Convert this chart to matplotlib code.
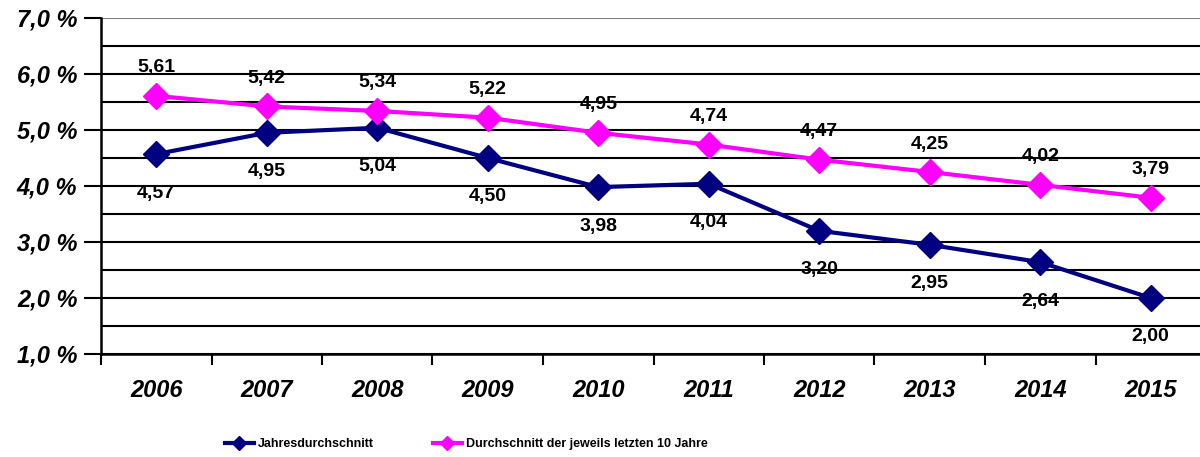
import matplotlib
matplotlib.use("Agg")
import matplotlib.pyplot as plt
from matplotlib.ticker import MultipleLocator, FixedLocator
from matplotlib import font_manager as fm

years = ["2006", "2007", "2008", "2009", "2010", "2011", "2012", "2013", "2014", "2015"]
jahres = [4.57, 4.95, 5.04, 4.50, 3.98, 4.04, 3.20, 2.95, 2.64, 2.00]
zehn = [5.61, 5.42, 5.34, 5.22, 4.95, 4.74, 4.47, 4.25, 4.02, 3.79]
y_ticks = [1.0, 2.0, 3.0, 4.0, 5.0, 6.0, 7.0]
label_jahres = "Jahresdurchschnitt"
label_zehn = "Durchschnitt der jeweils letzten 10 Jahre"

navy = "#000080"
magenta = "#FF00FF"
W, H = 1200, 457
fig = plt.figure(figsize=(W / 100, H / 100), dpi=100)
ax = fig.add_axes([101 / W, 1 - 354 / H, 1105 / W, (354 - 18) / H])

x = list(range(len(years)))
ax.plot(x, jahres, color=navy, lw=3, marker="D", ms=13, zorder=4, label=label_jahres, clip_on=False)
ax.plot(x, zehn, color=magenta, lw=3, marker="D", ms=13, zorder=4, label=label_zehn, clip_on=False)

fmt = lambda v: f"{v:.2f}".replace(".", ",")
for xi, v in zip(x, jahres):
    ax.annotate(fmt(v), (xi, v), xytext=(0, -39), textcoords="offset pixels",
                ha="center", va="center", fontsize=14, fontweight="bold", family="Liberation Sans")
for xi, v in zip(x, zehn):
    ax.annotate(fmt(v), (xi, v), xytext=(0, 28), textcoords="offset pixels",
                ha="center", va="center", fontsize=14, fontweight="bold", family="Liberation Sans")

ax.set_xlim(-0.5, 9.5)
ax.set_ylim(1.0, 7.0)
ax.yaxis.set_major_locator(FixedLocator(y_ticks))
ax.yaxis.set_minor_locator(MultipleLocator(0.5))
ax.set_yticklabels([f"{v:.1f} %".replace(".", ",") for v in y_ticks],
                   fontsize=17, fontweight="bold", fontstyle="italic", family="Liberation Sans")
ax.grid(True, which="both", axis="y", color="black", lw=1.5, zorder=1)
ax.set_axisbelow(True)
ax.tick_params(axis="y", which="major", length=12, width=1.5, pad=5)
ax.tick_params(axis="y", which="minor", length=0)
for t in ax.yaxis.get_major_ticks():
    if abs(t.get_loc() - 7.0) < 1e-9:
        t.gridline.set_color("#808080")

ax.xaxis.set_major_locator(FixedLocator(x))
ax.set_xticklabels(years, fontsize=17, fontweight="bold", fontstyle="italic", family="Liberation Sans")
ax.tick_params(axis="x", which="major", length=0, pad=18)
ax.xaxis.set_minor_locator(FixedLocator([i + 0.5 for i in range(-1, 10)]))
ax.tick_params(axis="x", which="minor", length=8, width=1.5)

for s in ["top", "right"]:
    ax.spines[s].set_visible(False)
ax.spines["left"].set_linewidth(1.8)
ax.spines["bottom"].set_linewidth(1.8)

try:
    fm.findfont(fm.FontProperties(family="Liberation Sans Narrow", weight="bold"), fallback_to_default=False)
    leg_prop = {"family": "Liberation Sans Narrow", "weight": "bold", "size": 10.5}
except Exception:
    leg_prop = {"family": "Liberation Sans", "weight": "bold", "size": 9}

handles, labels = ax.get_legend_handles_labels()
for h, lab, x0 in zip(handles, labels, [225, 433]):
    fig.legend([h], [lab], loc="center left", bbox_to_anchor=(x0 / W, 1 - 444 / H), frameon=False,
               prop=leg_prop, borderpad=0, borderaxespad=0, handlelength=2.3,
               handletextpad=0.35, markerscale=0.55)

fig.savefig("out.png", dpi=100)
